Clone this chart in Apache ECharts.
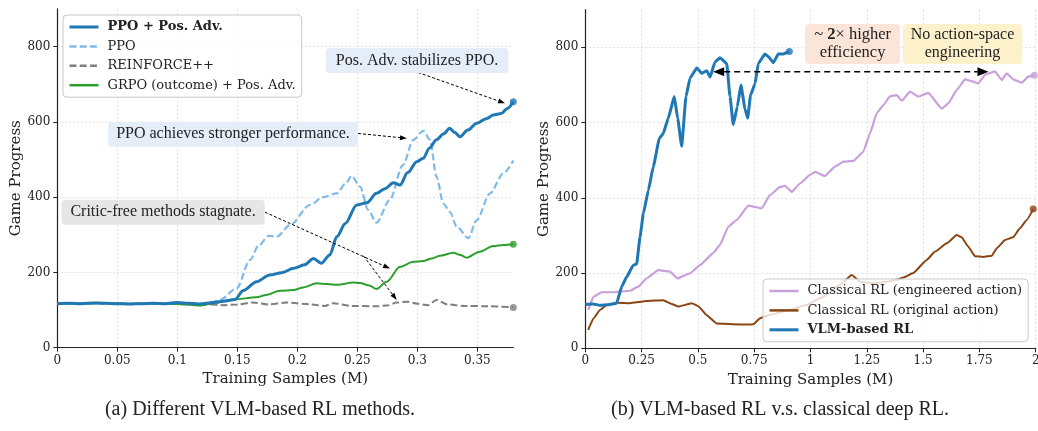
<!DOCTYPE html>
<html>
<head>
<meta charset="utf-8">
<script src="https://cdn.jsdelivr.net/npm/echarts@6/dist/echarts.min.js"></script>
<style>
  html, body { margin: 0; padding: 0; background: #fff; }
  #main { width: 1038px; height: 431px; }
</style>
</head>
<body>
<div id="main"></div>
<script>
// ---- (a) different VLM-based RL methods ----
var posAdvX = [0, 0.01, 0.02, 0.03, 0.04, 0.05, 0.06, 0.07, 0.08, 0.09, 0.1, 0.11, 0.12, 0.13, 0.14, 0.148, 0.155, 0.166, 0.177, 0.187, 0.197, 0.206, 0.2135, 0.22, 0.227, 0.233, 0.24, 0.2495, 0.258, 0.266, 0.273, 0.28, 0.2856, 0.292, 0.2995, 0.305, 0.31, 0.316, 0.322, 0.327, 0.331, 0.3356, 0.342, 0.3495, 0.358, 0.3633, 0.37, 0.375, 0.38];
var posAdvY = [117, 118, 117, 119, 118, 117, 116, 117, 118, 117, 120, 118, 116, 120, 124, 128, 152, 175, 193, 199, 211, 220, 237, 224, 246, 295, 330, 379, 385, 410, 422, 438, 432, 465, 494, 503, 530, 552, 568, 583, 572, 560, 578, 596, 609, 618, 622, 635, 653];

var ppoX = [0, 0.02, 0.04, 0.06, 0.08, 0.1, 0.12, 0.13, 0.136, 0.1495, 0.1606, 0.168, 0.176, 0.183, 0.194, 0.2106, 0.2217, 0.233, 0.24, 0.2453, 0.2523, 0.259, 0.266, 0.277, 0.288, 0.2967, 0.305, 0.3106, 0.316, 0.3217, 0.327, 0.333, 0.3425, 0.3495, 0.3606, 0.3717, 0.38];
var ppoY = [117, 118, 117, 116, 118, 119, 118, 122, 128, 158, 233, 272, 297, 295, 326, 379, 400, 410, 435, 456, 428, 366, 332, 392, 485, 552, 576, 552, 454, 383, 361, 321, 291, 339, 410, 463, 497];

var reinforceX = [0, 0.02, 0.04, 0.06, 0.08, 0.1, 0.12, 0.138, 0.15, 0.163, 0.176, 0.191, 0.211, 0.223, 0.23, 0.2445, 0.266, 0.275, 0.283, 0.2912, 0.3, 0.309, 0.316, 0.325, 0.339, 0.36, 0.38];
var reinforceY = [117, 118, 117, 116, 117, 118, 116, 113, 115, 120, 115, 120, 115, 111, 118, 111, 110, 112, 120, 122, 117, 113, 127, 115, 111, 110, 107];

var grpoX = [0, 0.02, 0.04, 0.06, 0.08, 0.1, 0.11, 0.12, 0.13, 0.1467, 0.166, 0.174, 0.1856, 0.1967, 0.205, 0.216, 0.225, 0.233, 0.2467, 0.2523, 0.26, 0.266, 0.2745, 0.2856, 0.2967, 0.305, 0.312, 0.319, 0.33, 0.336, 0.341, 0.352, 0.3633, 0.372, 0.38];
var grpoY = [118, 117, 119, 117, 118, 116, 114, 112, 118, 128, 134, 140, 151, 153, 160, 171, 169, 167, 173, 172, 165, 156, 175, 215, 228, 230, 237, 244, 252, 246, 239, 255, 270, 273, 275];

// ---- (b) VLM-based RL vs classical deep RL ----
var vlmX = [0, 0.0355, 0.065, 0.102, 0.139, 0.162, 0.184, 0.213, 0.228, 0.243, 0.258, 0.28, 0.302, 0.329, 0.346, 0.3686, 0.395, 0.41, 0.428, 0.447, 0.465, 0.495, 0.517, 0.539, 0.554, 0.576, 0.598, 0.628, 0.6426, 0.657, 0.675, 0.691, 0.709, 0.721, 0.734, 0.754, 0.768, 0.798, 0.813, 0.835, 0.857, 0.879, 0.906];
var vlmY = [117, 118, 114, 116, 120, 164, 190, 221, 224, 296, 359, 420, 483, 558, 571, 612, 669, 612, 537, 669, 718, 745, 731, 738, 721, 761, 772, 757, 669, 595, 642, 700, 637, 612, 673, 704, 757, 782, 775, 759, 782, 782, 789];

var engX = [0.013, 0.036, 0.073, 0.124, 0.198, 0.235, 0.2726, 0.324, 0.376, 0.4086, 0.465, 0.509, 0.568, 0.598, 0.635, 0.672, 0.724, 0.783, 0.82, 0.865, 0.887, 0.9165, 0.953, 0.998, 1.02, 1.064, 1.109, 1.146, 1.19, 1.234, 1.264, 1.294, 1.323, 1.353, 1.383, 1.405, 1.442, 1.479, 1.523, 1.583, 1.612, 1.649, 1.686, 1.723, 1.745, 1.775, 1.819, 1.849, 1.871, 1.9, 1.938, 1.967, 1.994];
var engY = [102, 137, 149, 149, 153, 164, 186, 208, 204, 186, 199, 221, 253, 275, 323, 341, 379, 372, 407, 429, 432, 416, 438, 461, 469, 458, 483, 496, 498, 522, 571, 625, 646, 670, 673, 658, 682, 669, 679, 637, 651, 686, 715, 709, 704, 727, 736, 713, 731, 715, 706, 722, 726];

var origX = [0.013, 0.036, 0.065, 0.095, 0.139, 0.198, 0.2726, 0.346, 0.3836, 0.413, 0.4725, 0.5018, 0.539, 0.583, 0.657, 0.724, 0.746, 0.776, 0.82, 0.909, 0.98, 1.05, 1.13, 1.183, 1.22, 1.279, 1.33, 1.383, 1.412, 1.456, 1.516, 1.553, 1.605, 1.649, 1.671, 1.701, 1.73, 1.767, 1.805, 1.827, 1.864, 1.9, 1.93, 1.96, 1.989];
var origY = [49, 79, 102, 115, 121, 120, 126, 128, 118, 111, 120, 112, 88, 66, 64, 63, 64, 80, 89, 102, 115, 135, 168, 195, 177, 173, 176, 182, 188, 200, 235, 257, 279, 301, 295, 270, 245, 243, 246, 266, 288, 295, 319, 341, 370];

var leftTicksX = 0.05;
var rightTicksX = 0.25;
var ticksY = 200;

function zip(xs, ys) {
    return xs.map(function (x, i) { return [x, ys[i]]; });
}
function last(xs, ys) {
    return [[xs[xs.length - 1], ys[ys.length - 1]]];
}
function fmt(v) { return String(parseFloat(v.toFixed(2))); }

var serif = 'DejaVu Serif';
var dark = '#222';

var chart = echarts.init(document.getElementById('main'));

function xAxisOf(gi, max, interval) {
    return {
        type: 'value', gridIndex: gi, min: 0, max: max, interval: interval,
        name: 'Training Samples (M)', nameLocation: 'middle', nameGap: 21,
        nameTextStyle: { fontFamily: serif, fontSize: 15, color: dark },
        axisLine: { show: true, lineStyle: { color: dark, width: 1.2 } },
        axisTick: { show: true, length: 4, lineStyle: { color: dark } },
        axisLabel: { fontFamily: serif, fontSize: 12, color: dark, margin: 7, formatter: fmt, showMaxLabel: gi === 1 },
        splitLine: { show: true, showMaxLine: gi === 1, lineStyle: { color: '#d8d8e4', width: 0.8, type: [2, 2] } }
    };
}
function yAxisOf(gi) {
    return {
        type: 'value', gridIndex: gi, min: 0, max: 900, interval: ticksY,
        name: 'Game Progress', nameLocation: 'middle', nameGap: 34,
        nameTextStyle: { fontFamily: serif, fontSize: 15, color: dark },
        axisLine: { show: true, lineStyle: { color: dark, width: 1.2 } },
        axisTick: { show: true, length: 4, lineStyle: { color: dark } },
        axisLabel: { fontFamily: serif, fontSize: 12, color: dark, margin: 7, showMaxLabel: false },
        splitLine: { show: true, showMaxLine: false, lineStyle: { color: '#d8d8e4', width: 0.8, type: [2, 2] } }
    };
}
function lineSeries(name, gi, data, color, width, type, z) {
    return {
        name: name, type: 'line', xAxisIndex: gi, yAxisIndex: gi, data: data,
        symbol: 'none', smooth: gi === 0 ? 0.3 : 0.12, smoothMonotone: 'x',
        lineStyle: { color: color, width: width, type: type || 'solid' },
        itemStyle: { color: color }, z: z
    };
}
function endDot(gi, data, color, z) {
    return {
        type: 'scatter', xAxisIndex: gi, yAxisIndex: gi, data: data,
        symbolSize: 7, itemStyle: { color: color }, z: z, silent: true
    };
}

var legendBase = {
    orient: 'vertical', itemWidth: 29, itemHeight: 14, itemGap: 5.4,
    padding: [5, 6, 5, 5], backgroundColor: 'rgba(255,255,255,0.8)',
    borderColor: '#c8c8c8', borderWidth: 1, borderRadius: 4,
    itemStyle: { opacity: 0 },
    textStyle: { fontFamily: serif, fontSize: 13, color: dark, lineHeight: 14, padding: [0, 0, 0, 4] }
};

var option = {
    animation: false,
    backgroundColor: '#fff',
    grid: [
        { left: 57.3, top: 8.8, width: 456, height: 338.9, outerBoundsMode: 'none' },
        { left: 585.3, top: 9.7, width: 450.4, height: 338.6, outerBoundsMode: 'none' }
    ],
    xAxis: [xAxisOf(0, 0.38, leftTicksX), xAxisOf(1, 2, rightTicksX)],
    yAxis: [yAxisOf(0), yAxisOf(1)],
    legend: [
        Object.assign({}, legendBase, {
            left: 63, top: 15,
            data: [
                { name: 'PPO + Pos. Adv.', textStyle: { fontWeight: 'bold' }, lineStyle: { width: 3 } },
                { name: 'PPO', lineStyle: { width: 2.5 } },
                { name: 'REINFORCE++', lineStyle: { width: 2.5 } },
                { name: 'GRPO (outcome) + Pos. Adv.', lineStyle: { width: 2.5 } }
            ]
        }),
        Object.assign({}, legendBase, {
            left: 763, top: 279,
            data: [
                { name: 'Classical RL (engineered action)', lineStyle: { width: 2.5 } },
                { name: 'Classical RL (original action)', lineStyle: { width: 2.5 } },
                { name: 'VLM-based RL', textStyle: { fontWeight: 'bold' }, lineStyle: { width: 3 } }
            ]
        })
    ],
    series: [
        lineSeries('REINFORCE++', 0, zip(reinforceX, reinforceY), '#7f7f7f', 2, [7, 3.2], 2),
        lineSeries('GRPO (outcome) + Pos. Adv.', 0, zip(grpoX, grpoY), '#2ca02c', 2, 'solid', 3),
        lineSeries('PPO', 0, zip(ppoX, ppoY), '#80bbe7', 2.2, [7, 3.2], 4),
        lineSeries('PPO + Pos. Adv.', 0, zip(posAdvX, posAdvY), '#1f77b4', 3, 'solid', 5),
        endDot(0, last(reinforceX, reinforceY), '#7f7f7f', 6),
        endDot(0, last(grpoX, grpoY), '#2ca02c', 6),
        endDot(0, last(posAdvX, posAdvY), '#1f77b4', 6),

        lineSeries('Classical RL (engineered action)', 1, zip(engX, engY), '#c9a0dc', 2.2, 'solid', 2),
        lineSeries('Classical RL (original action)', 1, zip(origX, origY), '#8b4513', 2, 'solid', 3),
        lineSeries('VLM-based RL', 1, zip(vlmX, vlmY), '#1f77b4', 3, 'solid', 4),
        endDot(1, last(engX, engY), '#c9a0dc', 6),
        endDot(1, last(origX, origY), '#8b4513', 6),
        endDot(1, last(vlmX, vlmY), '#1f77b4', 6)
    ]
};
chart.setOption(option);

// ---- annotations, placed in data coordinates ----
function px(gi, x, y) { return chart.convertToPixel({ gridIndex: gi }, [x, y]); }

function arrowHead(tip, from, len, wid) {
    var a = Math.atan2(tip[1] - from[1], tip[0] - from[0]);
    var bx = tip[0] - len * Math.cos(a), by = tip[1] - len * Math.sin(a);
    var nx = -Math.sin(a) * wid / 2, ny = Math.cos(a) * wid / 2;
    return {
        base: [bx, by],
        el: { type: 'polygon', silent: true, z: 100, shape: { points: [tip, [bx + nx, by + ny], [bx - nx, by - ny]] }, style: { fill: '#000' } }
    };
}
function arrow(p0, p1) {
    var h = arrowHead(p1, p0, 7, 5);
    return [
        { type: 'line', silent: true, z: 100, shape: { x1: p0[0], y1: p0[1], x2: h.base[0], y2: h.base[1] }, style: { stroke: '#000', lineWidth: 1, lineDash: [3, 2] } },
        h.el
    ];
}
function doubleArrow(p0, p1) {
    var h1 = arrowHead(p0, p1, 11, 9);
    var h2 = arrowHead(p1, p0, 11, 9);
    return [
        { type: 'line', silent: true, z: 100, shape: { x1: h1.base[0], y1: h1.base[1], x2: h2.base[0], y2: h2.base[1] }, style: { stroke: '#000', lineWidth: 1.5, lineDash: [6, 4] } },
        h1.el, h2.el
    ];
}
function box(p, text, bg, pad) {
    return {
        type: 'text', silent: true, z: 101, x: p[0], y: p[1],
        style: {
            text: text, fontFamily: 'Liberation Serif', fontSize: 16, fill: dark,
            align: 'center', verticalAlign: 'middle', backgroundColor: bg,
            padding: pad, borderRadius: 4
        }
    };
}

var g = [];
g = g.concat(arrow(px(0, 0.3006, 731), px(0, 0.3731, 649)));
g = g.concat(arrow(px(0, 0.2506, 569), px(0, 0.2914, 556)));
g = g.concat(arrow(px(0, 0.173, 360), px(0, 0.2773, 210)));
g = g.concat(arrow(px(0, 0.2551, 244), px(0, 0.2828, 127)));
g.push(box(px(0, 0.2998, 763), 'Pos. Adv. stabilizes PPO.', '#e4edf8', [5, 10, 4, 10]));
g.push(box(px(0, 0.1464, 567), 'PPO achieves stronger performance.', '#e4edf8', [5, 8, 4, 8]));
g.push(box(px(0, 0.0881, 360), 'Critic-free methods stagnate.', '#e6e6e6', [5, 9, 4, 9]));

g = g.concat(doubleArrow(px(1, 0.568, 735), px(1, 1.79, 735)));
var b1 = px(1, 1.187, 809);
g.push({
    type: 'text', silent: true, z: 101, x: b1[0], y: b1[1],
    style: {
        text: '{n|~ }{b|2}{n|× higher}\n{n|efficiency}',
        align: 'center', verticalAlign: 'middle', backgroundColor: '#fbe4d8',
        padding: [2, 9, 2, 9], borderRadius: 4,
        rich: {
            n: { fontFamily: 'Liberation Serif', fontSize: 16.5, fill: dark, lineHeight: 18, align: 'center' },
            b: { fontFamily: 'Liberation Serif', fontSize: 16.5, fontWeight: 'bold', fill: dark, lineHeight: 18, align: 'center' }
        }
    }
});
var b2 = px(1, 1.675, 809);
g.push({
    type: 'text', silent: true, z: 101, x: b2[0], y: b2[1],
    style: {
        text: 'No action-space\nengineering', fontFamily: 'Liberation Serif', fontSize: 16, fill: dark,
        lineHeight: 18, align: 'center', verticalAlign: 'middle', backgroundColor: '#fdf1cc',
        padding: [2, 8, 2, 8], borderRadius: 4
    }
});

g.push({ type: 'text', silent: true, x: 260, y: 410, style: { text: '(a) Different VLM-based RL methods.', fontFamily: 'Liberation Serif', fontSize: 20, fill: dark, align: 'center', verticalAlign: 'middle' } });
g.push({ type: 'text', silent: true, x: 780, y: 410, style: { text: '(b) VLM-based RL v.s. classical deep RL.', fontFamily: 'Liberation Serif', fontSize: 20, fill: dark, align: 'center', verticalAlign: 'middle' } });

chart.setOption({ graphic: g });
</script>
</body>
</html>
